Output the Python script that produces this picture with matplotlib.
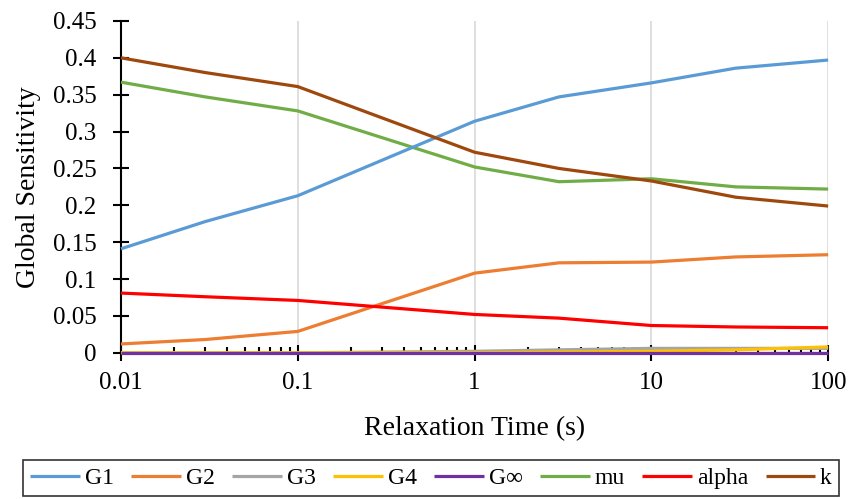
import numpy as np
import matplotlib.pyplot as plt
from matplotlib.ticker import LogLocator, FixedLocator, NullFormatter

plt.rcParams['font.family'] = ['Liberation Serif', 'DejaVu Serif']

# relaxation times (s)
times = [0.01, 0.03, 0.1, 1, 3, 10, 30, 100]

g1 = [0.141, 0.178, 0.213, 0.314, 0.347, 0.366, 0.386, 0.397]
g2 = [0.012, 0.018, 0.029, 0.108, 0.122, 0.123, 0.130, 0.133]
g3 = [0.000, 0.000, 0.000, 0.002, 0.004, 0.006, 0.006, 0.006]
g4 = [0.000, 0.000, 0.000, 0.000, 0.001, 0.002, 0.004, 0.008]
ginf = [0.0, 0.0, 0.0, 0.0, 0.0, 0.0, 0.0, 0.0]
mu = [0.367, 0.347, 0.328, 0.252, 0.232, 0.236, 0.225, 0.222]
alpha = [0.081, 0.076, 0.071, 0.052, 0.047, 0.037, 0.035, 0.034]
k = [0.400, 0.380, 0.361, 0.272, 0.250, 0.233, 0.211, 0.199]

names = ['G1', 'G2', 'G3', 'G4', 'G\u221e', 'mu', 'alpha', 'k']
series = [g1, g2, g3, g4, ginf, mu, alpha, k]
colors = ['#5B9BD5', '#ED7D31', '#A5A5A5', '#FFC000', '#7030A0', '#70AD47', '#FF0000', '#9E480E']

fig = plt.figure(figsize=(8.52, 4.99), dpi=100)
ax = fig.add_axes([0.142, 0.293, 0.830, 0.665])

# small ones first, purple last so it sits on the axis line
order = [2, 3, 1, 6, 5, 0, 7, 4]
for i in order:
    ax.plot(times, series[i], color=colors[i], lw=2.3, label=names[i],
            solid_capstyle='butt', clip_on=False, zorder=3 + (i == 4))

ax.set_xscale('log')
ax.set_xlim(0.01, 100)
ax.set_ylim(0, 0.45)
ax.set_yticks(np.arange(0, 0.451, 0.05))
ax.set_yticklabels(['0', '0.05', '0.1', '0.15', '0.2', '0.25', '0.3', '0.35', '0.4', '0.45'])
ax.xaxis.set_major_locator(FixedLocator([0.01, 0.1, 1, 10, 100]))
ax.set_xticklabels(['0.01', '0.1', '1', '10', '100'])
ax.xaxis.set_minor_locator(LogLocator(base=10, subs=np.arange(2, 10)))
ax.xaxis.set_minor_formatter(NullFormatter())

ax.grid(axis='x', which='major', color='#D9D9D9', lw=1.2)
ax.set_axisbelow(True)
for s in ['top', 'right']:
    ax.spines[s].set_visible(False)
for s in ['left', 'bottom']:
    ax.spines[s].set_linewidth(1.5)

ax.tick_params(axis='y', which='major', direction='inout', length=11.5, width=1.5,
               labelsize=18, pad=12)
ax.tick_params(axis='x', which='major', direction='inout', length=11.5, width=1.5,
               labelsize=18, pad=8)
ax.tick_params(axis='x', which='minor', direction='in', length=4.5, width=1.5)

ax.set_xlabel('Relaxation Time (s)', fontsize=20, labelpad=16)
ax.set_ylabel('Global Sensitivity', fontsize=20, labelpad=8)

handles, labels = ax.get_legend_handles_labels()
hmap = dict(zip(labels, handles))
leg = fig.legend([hmap[n] for n in names], names, loc='lower center',
                 bbox_to_anchor=(0.506, -0.018), ncol=8, fontsize=17,
                 frameon=True, fancybox=False, handlelength=2.1,
                 handletextpad=0.2, columnspacing=0.75, borderpad=0.3)
leg.get_frame().set_edgecolor('black')
leg.get_frame().set_linewidth(1.2)

fig.savefig('out.png', dpi=100)
